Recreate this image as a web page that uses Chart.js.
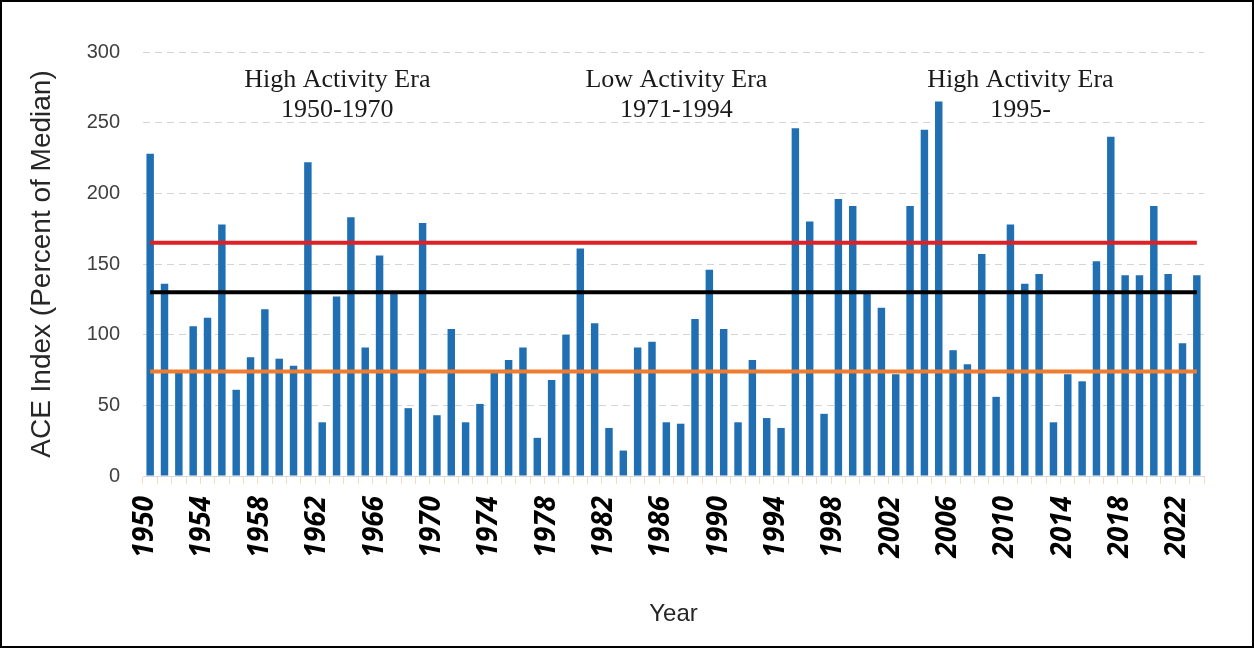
<!DOCTYPE html>
<html>
<head>
<meta charset="utf-8">
<title>ACE Index</title>
<script src="https://cdn.jsdelivr.net/npm/chart.js@4/dist/chart.umd.min.js"></script>
<style>
  html, body { margin: 0; padding: 0; background: #fff; overflow: hidden; }
  #wrap { position: relative; width: 1254px; height: 648px; }
</style>
</head>
<body>
<div id="wrap"><canvas id="ace-chart"></canvas></div>
<script>
var years = [
  "1950","1951","1952","1953","1954","1955","1956","1957","1958","1959",
  "1960","1961","1962","1963","1964","1965","1966","1967","1968","1969",
  "1970","1971","1972","1973","1974","1975","1976","1977","1978","1979",
  "1980","1981","1982","1983","1984","1985","1986","1987","1988","1989",
  "1990","1991","1992","1993","1994","1995","1996","1997","1998","1999",
  "2000","2001","2002","2003","2004","2005","2006","2007","2008","2009",
  "2010","2011","2012","2013","2014","2015","2016","2017","2018","2019",
  "2020","2021","2022","2023"
];

var aceIndex = [
  228, 136,  73, 106, 112, 178,  61,  84, 118,  83,
   78, 222,  38, 127, 183,  91, 156, 129,  48, 179,
   43, 104,  38,  51,  73,  82,  91,  27,  68, 100,
  161, 108,  34,  18,  91,  95,  38,  37, 111, 146,
  104,  38,  82,  41,  34, 246, 180,  44, 196, 191,
  129, 119,  72, 191, 245, 265,  89,  79, 157,  56,
  178, 136, 143,  38,  72,  67, 152, 240, 142, 142,
  191, 143,  94, 142
];

var yTicks = [0, 50, 100, 150, 200, 250, 300];

// thresholds drawn as horizontal lines
var aboveNormal = 165;
var median = 130;
var belowNormal = 74;

var eraLabels = [
  ["High Activity Era", "1950-1970"],
  ["Low Activity Era", "1971-1994"],
  ["High Activity Era", "1995-"]
];

function flatLine(v) {
  return [{ x: years[0], y: v }, { x: years[years.length - 1], y: v }];
}

function lineSet(v, color) {
  return {
    type: "line",
    data: flatLine(v),
    borderColor: color,
    borderWidth: 4,
    pointRadius: 0,
    fill: false,
    order: 1
  };
}

/**
 * Frame around the picture and the era captions.
 */
var extras = {
  id: "extras",
  afterDatasetsDraw: function (chart) {
    var ctx = chart.ctx;
    var x = chart.scales.x, y = chart.scales.y;
    var spots = [13.05, 36.7, 60.7];
    ctx.save();
    ctx.fillStyle = "#1a1a1a";
    ctx.font = "26px 'Liberation Serif', 'Times New Roman', serif";
    ctx.textAlign = "center";
    ctx.textBaseline = "middle";
    eraLabels.forEach(function (lines, i) {
      var px = x.getPixelForValue(spots[i]);
      ctx.fillText(lines[0], px, y.getPixelForValue(280));
      ctx.fillText(lines[1], px, y.getPixelForValue(259));
    });
    ctx.restore();
  },
  afterDraw: function (chart) {
    var ctx = chart.ctx;
    ctx.save();
    ctx.strokeStyle = "#000";
    ctx.lineWidth = 2;
    ctx.strokeRect(1, 1, chart.width - 2, chart.height - 2);
    ctx.restore();
  }
};

var ctx = document.getElementById("ace-chart").getContext("2d");

var aceChart = new Chart(ctx, {
  data: {
    labels: years,
    datasets: [
      {
        type: "bar",
        label: "ACE Index",
        data: aceIndex,
        backgroundColor: "#1f6fb2",
        categoryPercentage: 1,
        barPercentage: 0.52,
        order: 2
      },
      lineSet(aboveNormal, "#de2126"),
      lineSet(median, "#000000"),
      lineSet(belowNormal, "#ed7d31")
    ]
  },
  options: {
    responsive: true,
    maintainAspectRatio: false,
    animation: false,
    layout: { padding: { top: 52, left: 10, right: 50, bottom: 10 } },
    plugins: {
      legend: { display: false },
      tooltip: { enabled: false }
    },
    scales: {
      x: {
        type: "category",
        offset: true,
        afterFit: function (s) { s.height = 162; },
        grid: {
          drawOnChartArea: false,
          drawTicks: true,
          tickLength: 8,
          color: "#f3dcc8"
        },
        border: { color: "#d9d9d9", width: 1 },
        ticks: {
          autoSkip: false,
          maxRotation: 90,
          minRotation: 90,
          padding: 12,
          labelOffset: -5,
          color: "#000",
          font: { family: "'Open Sans', sans-serif", size: 28, weight: "bold", style: "italic" },
          callback: function (val, i) { return i % 4 === 0 ? years[i] : ""; }
        },
        title: {
          display: true,
          text: "Year",
          color: "#262626",
          padding: { top: 4, bottom: 9 },
          font: { family: "'Liberation Sans', Arial, sans-serif", size: 24 }
        }
      },
      y: {
        min: 0,
        max: 300,
        afterFit: function (s) { s.width = 133; },
        afterBuildTicks: function (s) {
          s.ticks = yTicks.map(function (v) { return { value: v }; });
        },
        grid: {
          color: "#d4d4d4",
          lineWidth: 1,
          drawTicks: false
        },
        border: { display: false, dash: [7, 5] },
        ticks: {
          padding: 23,
          color: "#404040",
          font: { family: "'Liberation Sans', Arial, sans-serif", size: 20 }
        },
        title: {
          display: true,
          text: "ACE Index (Percent of Median)",
          color: "#262626",
          padding: { top: 15, bottom: 4 },
          font: { family: "'Liberation Sans', Arial, sans-serif", size: 28 }
        }
      }
    }
  },
  plugins: [extras]
});
</script>
</body>
</html>
